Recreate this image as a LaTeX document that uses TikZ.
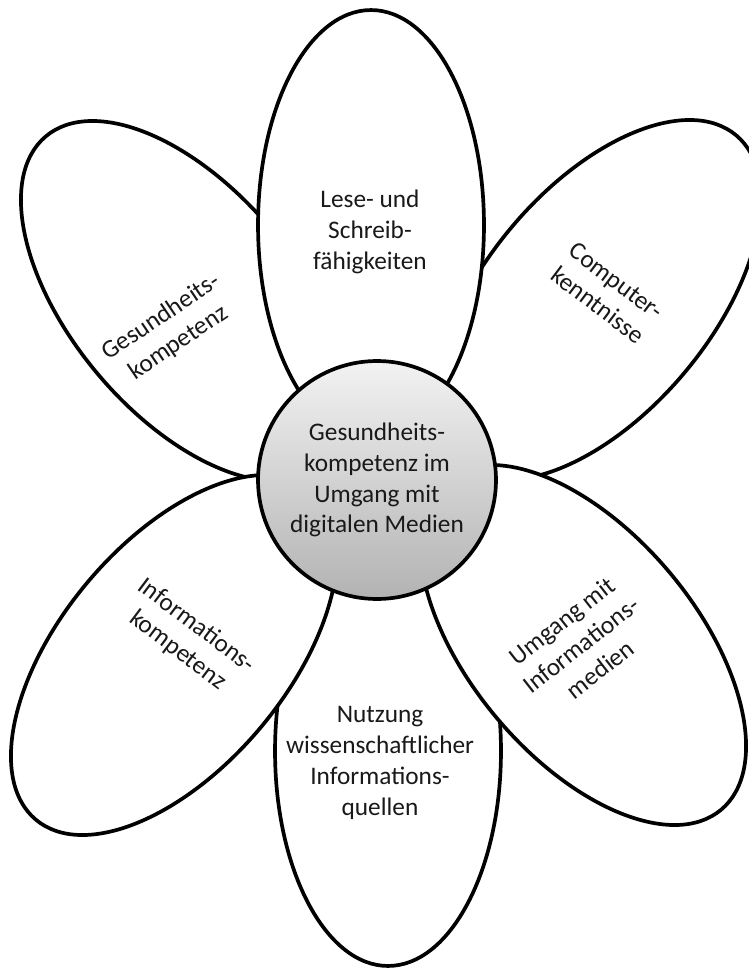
\documentclass[tikz,border=0pt]{standalone}
\usepackage{fontspec}
\setmainfont{Carlito}
\usetikzlibrary{shapes.geometric}

\begin{document}
\begin{tikzpicture}[
  x=0.02cm, y=-0.02cm,
  every node/.style={font=\fontsize{14.4}{17.6}\selectfont, align=center, inner sep=0pt},
  petal/.style={ellipse, draw, line width=2.1pt, fill=white,
                minimum width=4.52cm, minimum height=8.6cm},
  hub/.style={circle, draw, line width=2.1pt, top color=black!5, bottom color=black!30,
              minimum size=4.76cm},
  txt/.style={text=black!90}
]
  \useasboundingbox (0,0) rectangle (748,969);

  % petals, back to front
  \node[petal, rotate=40]  (gesund)   at (184,301) {};
  \node[petal, rotate=-40] (computer) at (598,300) {};
  \node[petal]             (lese)     at (371,225) {};
  \node[petal]             (nutzung)  at (388,751) {};
  \node[petal, rotate=-40] (infokomp) at (174,655) {};
  \node[petal, rotate=40]  (umgang)   at (583,645) {};

  % centre of the flower
  \node[hub, txt] (mitte) at (377,480) {Gesundheits-\\kompetenz im\\Umgang mit\\digitalen Medien};

  % petal texts
  \node[txt]             (lesetxt)     at (370,232) {Lese- und\\Schreib-\\fähigkeiten};
  \node[txt, rotate=34]  (gesundtxt)   at (170,330) {Gesundheits-\\kompetenz};
  \node[txt, rotate=-37] (computertxt) at (607,293) {Computer-\\kenntnisse};
  \node[txt, rotate=-37] (infokomptxt) at (187,638) {Informations-\\kompetenz};
  \node[txt]             (nutzungtxt)  at (380,763) {Nutzung\\wissenschaftlicher\\Informations-\\quellen};
  \node[txt, rotate=38]  (umgangtxt)   at (581,645) {Umgang mit\\Informations-\\medien};
\end{tikzpicture}
\end{document}
